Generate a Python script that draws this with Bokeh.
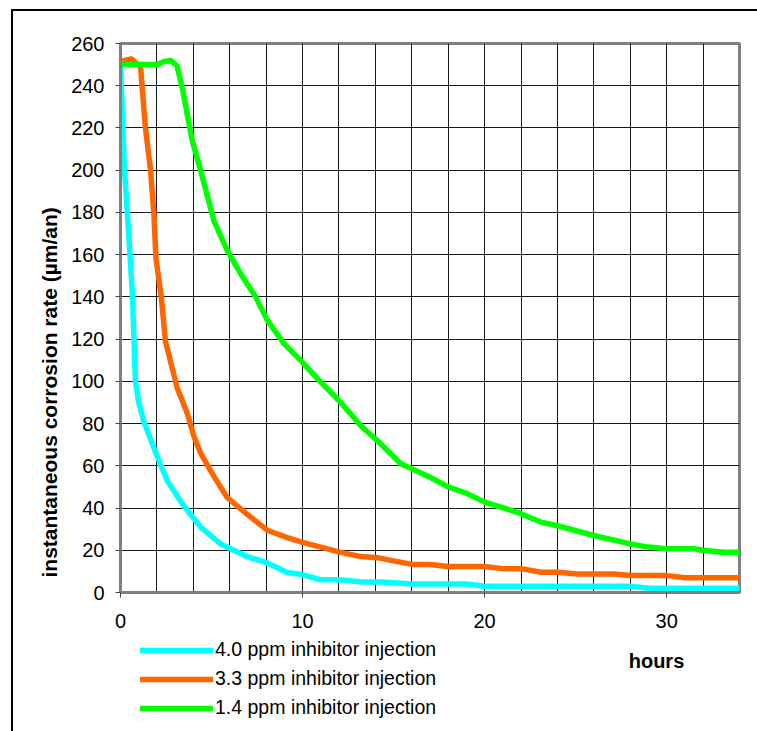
from bokeh.plotting import figure
from bokeh.layouts import column
from bokeh.models import (SingleIntervalTicker, Label, Legend, LegendItem, Range1d, Title)
from bokeh.embed import file_html
from bokeh.resources import INLINE

# ---- data ----
hours_40 = [0, 0.22, 0.45, 0.66, 0.82, 1.0, 1.28, 1.9, 2.56, 3.39, 4.4, 5.5, 6.96, 8.06, 9.16, 10.0,
            11.0, 12.1, 13.2, 14.3, 16.0, 19.0, 20.0, 24.0, 28.0, 29.0, 34.0]
rate_40 = [250, 200, 170, 140, 100, 90, 81, 67, 53, 42, 31, 23, 17, 14, 9.5, 8.5,
           6, 6, 5, 5, 4, 4, 3, 3, 3, 2, 2]

hours_33 = [0, 0.6, 1.1, 1.37, 1.65, 1.83, 1.95, 2.24, 2.47, 3.11, 3.66, 4.03, 4.4, 5.13, 5.86,
            6.96, 8.06, 9.16, 10.0, 11.0, 12.1, 13.2, 14.1, 15.0, 16.0, 17.0, 18.0, 20.0, 21.0,
            22.0, 23.1, 24.0, 25.1, 27.1, 28.0, 30.0, 31.0, 34.0]
rate_33 = [251.5, 252.7, 249, 220, 200, 180, 158, 140, 119, 97, 85, 74, 66, 55, 45,
           37, 29.5, 26, 23.7, 21.5, 19, 17, 16.5, 15, 13.3, 13.3, 12.3, 12.3, 11.3,
           11.3, 9.6, 9.6, 8.8, 8.8, 8, 8, 7, 7]

hours_14 = [0, 2.0, 2.4, 2.75, 3.1, 3.39, 3.94, 4.4, 5.13, 5.86, 6.6, 7.42, 8.06, 8.97, 10.0,
            11.0, 12.1, 13.2, 14.1, 15.4, 16.0, 17.0, 18.0, 19.0, 20.0, 21.8, 23.1, 24.0, 26.0,
            28.0, 29.0, 30.0, 31.5, 32.0, 33.1, 34.0]
rate_14 = [250, 250, 251.5, 252, 249.5, 239, 214, 200, 176, 162, 151, 140, 129, 118, 109,
           99.6, 90, 79, 72, 61, 58.6, 54.6, 50, 47, 42.8, 38, 33.3, 31.6, 27,
           23, 21.5, 20.7, 20.7, 20, 19.1, 19.1]

series_names = ["4.0 ppm inhibitor injection", "3.3 ppm inhibitor injection", "1.4 ppm inhibitor injection"]
series_colors = ["#00FFFF", "#FF6600", "#00FF00"]
y_title = "instantaneous corrosion rate (µm/an)"
x_title = "hours"

FONT = "Liberation Sans"
BORDER = 2
FRAME_L, FRAME_R = 120, 739
LW = 5.5

# ---------------- main chart ----------------
p = figure(width=757 - 11 - BORDER, height=625, output_backend="svg", toolbar_location=None,
           x_range=Range1d(0, 34), y_range=Range1d(0, 260),
           min_border_left=FRAME_L - 11 - BORDER, min_border_right=757 - FRAME_R,
           min_border_top=43 - 9 - BORDER, min_border_bottom=44)
p.background_fill_color = "white"
p.border_fill_color = "white"
p.outline_line_color = "#808080"
p.outline_line_width = 3

p.xaxis.ticker = SingleIntervalTicker(interval=10)
p.yaxis.ticker = SingleIntervalTicker(interval=20)
for ax in (p.xaxis[0], p.yaxis[0]):
    ax.axis_line_color = "#808080"
    ax.axis_line_width = 3
    ax.major_tick_line_color = "#404040"
    ax.major_tick_line_width = 1
    ax.major_tick_out = 5
    ax.major_tick_in = 0
    ax.minor_tick_line_color = None
    ax.major_label_text_font = FONT
    ax.major_label_text_font_size = "20px"
    ax.major_label_text_color = "black"
p.xaxis.major_label_standoff = 16
p.yaxis.major_label_standoff = 11

p.xgrid.ticker = SingleIntervalTicker(interval=2)
p.ygrid.ticker = SingleIntervalTicker(interval=20)
for g in (p.xgrid[0], p.ygrid[0]):
    g.grid_line_color = "black"
    g.grid_line_width = 1
    g.grid_line_alpha = 0.9

for xs, ys, c in [(hours_40, rate_40, series_colors[0]),
                  (hours_33, rate_33, series_colors[1]),
                  (hours_14, rate_14, series_colors[2])]:
    p.line(xs, ys, line_color=c, line_width=LW, line_join="round", line_cap="round")

p.add_layout(Title(text=y_title, align="left", offset=15, standoff=16,
                   text_font=FONT, text_font_size="21px", text_font_style="bold",
                   text_color="black"), "left")

# ---------------- strip below: legend and x title ----------------
top_of_strip = 9 + BORDER + 625
q = figure(width=757 - 11 - BORDER, height=731 - top_of_strip, output_backend="svg",
           toolbar_location=None,
           x_range=Range1d(FRAME_L, FRAME_R), y_range=Range1d(731, top_of_strip),
           min_border_left=FRAME_L - 11 - BORDER, min_border_right=757 - FRAME_R,
           min_border_top=0, min_border_bottom=0)
q.axis.visible = False
q.grid.visible = False
q.outline_line_color = None
q.background_fill_color = "white"
q.border_fill_color = "white"

# renderers that only supply the legend swatches (no visible data inside this strip)
nan = float("nan")
legend_renderers = [q.line(x=[nan], y=[nan], line_color=c, line_width=LW, line_cap="round")
                    for c in series_colors]
legend = Legend(items=[LegendItem(label=n, renderers=[r]) for n, r in zip(series_names, legend_renderers)],
                location=(140 - FRAME_L, 12), orientation="vertical",
                glyph_width=73, glyph_height=20, label_height=20, label_standoff=2,
                spacing=6, padding=0, margin=0,
                label_text_font=FONT, label_text_font_size="19.5px", label_text_color="black",
                border_line_color=None, background_fill_alpha=0)
q.add_layout(legend, "center")

q.add_layout(Label(x=656, y=660, text=x_title, text_align="center", text_baseline="middle",
                   text_font=FONT, text_font_size="20px", text_font_style="bold",
                   text_color="black"))

layout = column(p, q, spacing=0, margin=(9, 0, 0, 11),
                styles={"border-left": f"{BORDER}px solid black",
                        "border-top": f"{BORDER}px solid black"})

open("out.html", "w").write(file_html(layout, INLINE))
